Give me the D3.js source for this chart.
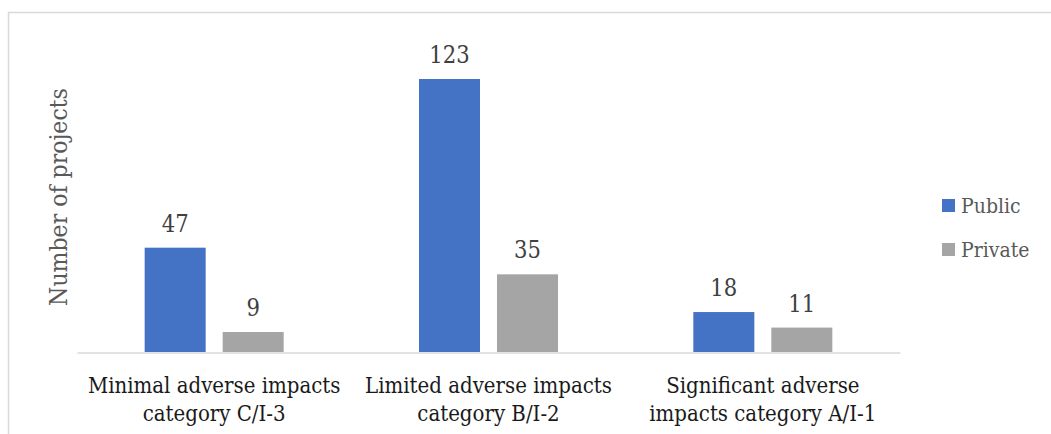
<!DOCTYPE html>
<html><head><meta charset="utf-8">
<script src="https://cdn.jsdelivr.net/npm/d3@7"></script>
<style>body{margin:0;background:#fff;overflow:hidden}svg{display:block}text{font-stretch:condensed}</style>
</head><body>
<script>
const categories = [
  ["Minimal adverse impacts", "category C/I-3"],
  ["Limited adverse impacts", "category B/I-2"],
  ["Significant adverse", "impacts category A/I-1"]
];
const seriesNames = ["Public", "Private"];
const publicValues = [47, 123, 18];
const privateValues = [9, 35, 11];
const colors = ["#4472C4", "#A5A5A5"];

const W = 1051, H = 434;
const font = "'DejaVu Serif Condensed', 'DejaVu Serif', serif";
const svg = d3.select("body").append("svg").attr("width", W).attr("height", H);
svg.append("rect").attr("x", 8.5).attr("y", 12.5).attr("width", 1060).attr("height", 440)
  .attr("fill", "#fff").attr("stroke", "#d9d9d9").attr("stroke-width", 1.5);

const catIdx = d3.range(categories.length);
const x0 = d3.scaleBand().domain(catIdx).range([77, 900]).padding(0);
const gw = 139, bw = x0.bandwidth();
const x1 = d3.scaleBand().domain(seriesNames).range([(bw - gw) / 2, (bw + gw) / 2]).paddingInner(17 / 78);
const y = d3.scaleLinear().domain([0, 123]).range([352, 79]);
const color = d3.scaleOrdinal().domain(seriesNames).range(colors);

const data = catIdx.map(i => ({i, vals: [
  {s: "Public", v: publicValues[i]}, {s: "Private", v: privateValues[i]}]}));

const g = svg.append("g").selectAll("g").data(data).join("g")
  .attr("transform", d => `translate(${x0(d.i)},0)`);
g.selectAll("rect").data(d => d.vals).join("rect")
  .attr("x", d => x1(d.s)).attr("width", x1.bandwidth())
  .attr("y", d => y(d.v)).attr("height", d => y(0) - y(d.v))
  .attr("fill", d => color(d.s));
g.selectAll("text.val").data(d => d.vals).join("text").attr("class", "val")
  .attr("x", d => x1(d.s) + x1.bandwidth() / 2).attr("y", d => y(d.v) - 16)
  .attr("text-anchor", "middle").attr("font-family", font).attr("font-size", 23.5)
  .attr("fill", "#404040").text(d => d.v);

// baseline axis
const xAxis = d3.axisBottom(x0).tickSize(0).tickFormat("");
const ax = svg.append("g").attr("transform", "translate(0,352.5)").call(xAxis);
ax.select(".domain").attr("stroke", "#d9d9d9").attr("stroke-width", 1.5);

// category labels
const cl = svg.append("g").selectAll("text").data(catIdx).join("text")
  .attr("text-anchor", "middle").attr("font-family", font).attr("font-size", 22)
  .attr("fill", "#1a1a1a");
cl.each(function(i) {
  const t = d3.select(this);
  categories[i].forEach((line, k) => {
    t.append("tspan").attr("x", x0(i) + bw / 2).attr("y", 393 + k * 28).text(line);
  });
});

// y title
svg.append("text").attr("transform", "translate(67,197) rotate(-90)")
  .attr("text-anchor", "middle").attr("font-family", font).attr("font-size", 24.5)
  .attr("fill", "#595959").text("Number of projects");

// legend
const leg = svg.append("g").selectAll("g").data(seriesNames).join("g")
  .attr("transform", (d, i) => `translate(942,${199 + i * 44})`);
leg.append("rect").attr("width", 13).attr("height", 13).attr("fill", d => color(d));
leg.append("text").attr("x", 19).attr("y", 14).attr("font-family", font).attr("font-size", 21)
  .attr("fill", "#595959").text(d => d);
</script>
</body></html>
